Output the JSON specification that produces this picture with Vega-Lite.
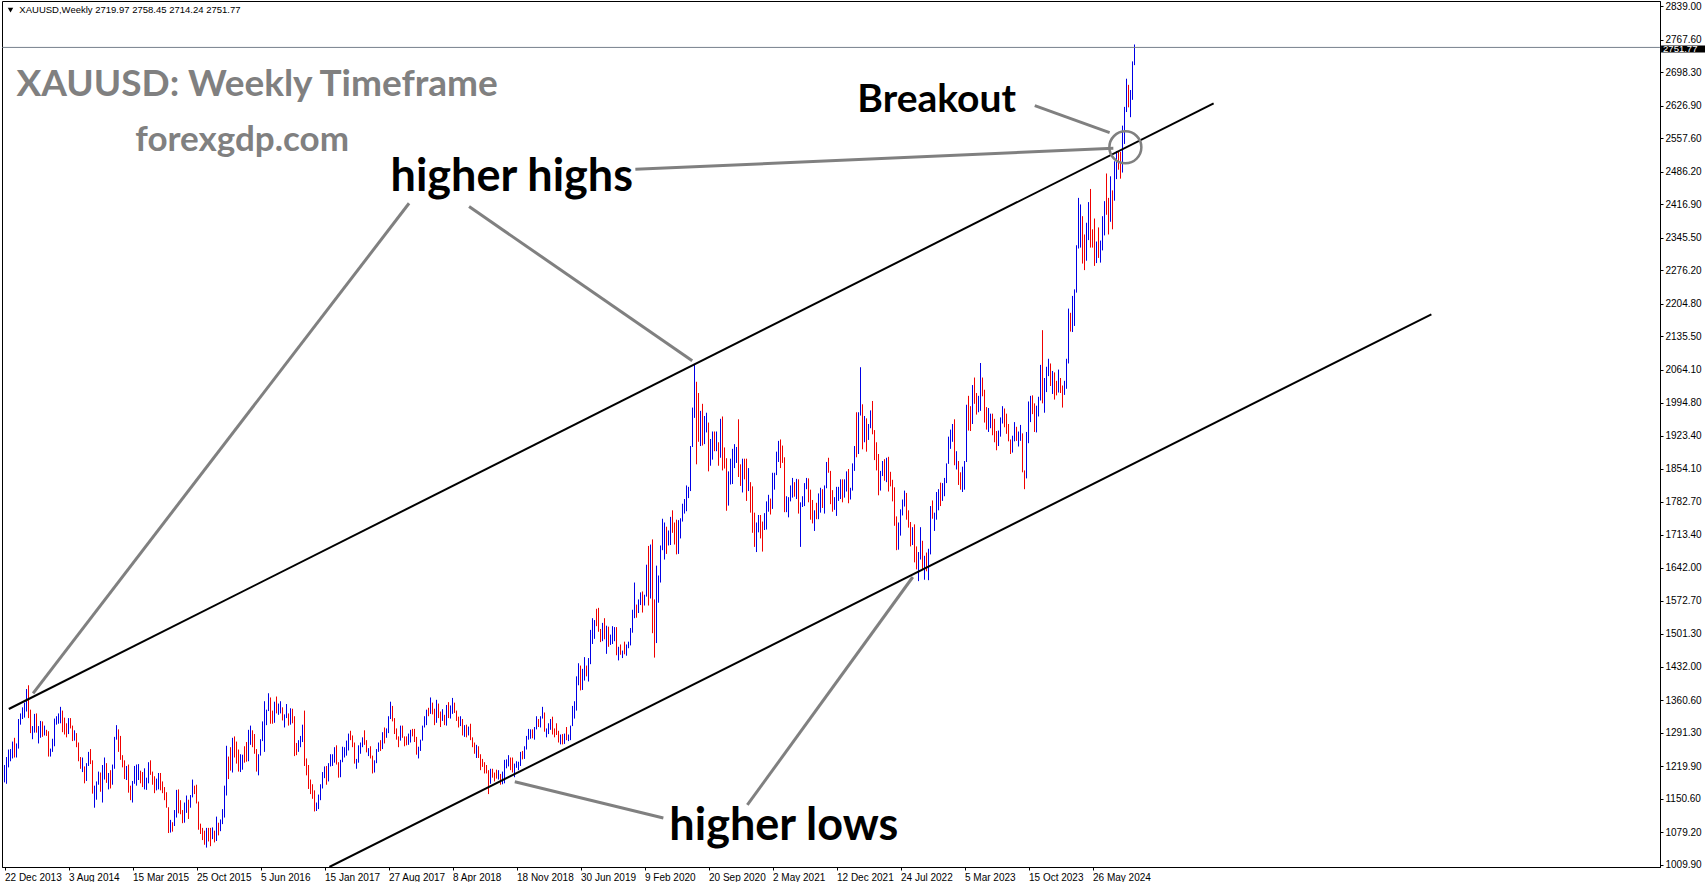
{
"$schema":"https://vega.github.io/schema/vega-lite/v6.json",
"width":1658,"height":866,
"padding":{"left":1,"top":1,"right":0,"bottom":0},
"autosize":{"type":"pad"},
"background":"white",
"config":{"view":{"stroke":"#000000","strokeWidth":1},"axis":{"labelOverlap":false}},
"datasets":{
"bars":[
{"d":"2013-12-22","o":1200,"h":1222,"p":1185,"c":1213},
{"d":"2013-12-29","o":1213,"h":1239,"p":1182,"c":1237},
{"d":"2014-01-05","o":1237,"h":1255,"p":1217,"c":1247},
{"d":"2014-01-12","o":1247,"h":1256,"p":1230,"c":1254},
{"d":"2014-01-19","o":1254,"h":1272,"p":1236,"c":1264},
{"d":"2014-01-26","o":1264,"h":1280,"p":1238,"c":1240},
{"d":"2014-02-02","o":1240,"h":1268,"p":1238,"c":1262},
{"d":"2014-02-09","o":1262,"h":1320,"p":1257,"c":1318},
{"d":"2014-02-16","o":1318,"h":1332,"p":1308,"c":1323},
{"d":"2014-02-23","o":1323,"h":1345,"p":1320,"c":1326},
{"d":"2014-03-02","o":1326,"h":1355,"p":1323,"c":1338},
{"d":"2014-03-09","o":1338,"h":1384,"p":1336,"c":1379},
{"d":"2014-03-16","o":1379,"h":1392,"p":1322,"c":1334},
{"d":"2014-03-23","o":1334,"h":1340,"p":1290,"c":1294},
{"d":"2014-03-30","o":1294,"h":1305,"p":1277,"c":1303},
{"d":"2014-04-06","o":1303,"h":1331,"p":1291,"c":1318},
{"d":"2014-04-13","o":1318,"h":1332,"p":1291,"c":1293},
{"d":"2014-04-20","o":1293,"h":1305,"p":1268,"c":1300},
{"d":"2014-04-27","o":1300,"h":1316,"p":1280,"c":1302},
{"d":"2014-05-04","o":1302,"h":1315,"p":1282,"c":1288},
{"d":"2014-05-11","o":1288,"h":1306,"p":1285,"c":1293},
{"d":"2014-05-18","o":1293,"h":1297,"p":1284,"c":1292},
{"d":"2014-05-25","o":1292,"h":1294,"p":1240,"c":1245},
{"d":"2014-06-01","o":1245,"h":1257,"p":1240,"c":1252},
{"d":"2014-06-08","o":1252,"h":1278,"p":1250,"c":1274},
{"d":"2014-06-15","o":1274,"h":1321,"p":1262,"c":1315},
{"d":"2014-06-22","o":1315,"h":1326,"p":1308,"c":1316},
{"d":"2014-06-29","o":1316,"h":1332,"p":1310,"c":1320},
{"d":"2014-07-06","o":1320,"h":1346,"p":1311,"c":1337},
{"d":"2014-07-13","o":1337,"h":1338,"p":1292,"c":1310},
{"d":"2014-07-20","o":1310,"h":1323,"p":1287,"c":1307},
{"d":"2014-07-27","o":1307,"h":1311,"p":1281,"c":1294},
{"d":"2014-08-03","o":1294,"h":1322,"p":1288,"c":1310},
{"d":"2014-08-10","o":1310,"h":1322,"p":1300,"c":1305},
{"d":"2014-08-17","o":1305,"h":1306,"p":1273,"c":1280},
{"d":"2014-08-24","o":1280,"h":1296,"p":1274,"c":1287},
{"d":"2014-08-31","o":1287,"h":1290,"p":1260,"c":1269},
{"d":"2014-09-07","o":1269,"h":1270,"p":1230,"c":1231},
{"d":"2014-09-14","o":1231,"h":1239,"p":1214,"c":1216},
{"d":"2014-09-21","o":1216,"h":1238,"p":1207,"c":1218},
{"d":"2014-09-28","o":1218,"h":1219,"p":1183,"c":1192},
{"d":"2014-10-05","o":1192,"h":1226,"p":1188,"c":1222},
{"d":"2014-10-12","o":1222,"h":1250,"p":1220,"c":1238},
{"d":"2014-10-19","o":1238,"h":1256,"p":1224,"c":1231},
{"d":"2014-10-26","o":1231,"h":1232,"p":1161,"c":1171},
{"d":"2014-11-02","o":1171,"h":1178,"p":1131,"c":1177},
{"d":"2014-11-09","o":1177,"h":1187,"p":1148,"c":1186},
{"d":"2014-11-16","o":1186,"h":1208,"p":1180,"c":1201},
{"d":"2014-11-23","o":1201,"h":1206,"p":1165,"c":1175},
{"d":"2014-11-30","o":1175,"h":1222,"p":1142,"c":1191},
{"d":"2014-12-07","o":1191,"h":1238,"p":1191,"c":1222},
{"d":"2014-12-14","o":1222,"h":1226,"p":1184,"c":1195},
{"d":"2014-12-21","o":1195,"h":1205,"p":1170,"c":1195},
{"d":"2014-12-28","o":1195,"h":1211,"p":1172,"c":1186},
{"d":"2015-01-04","o":1186,"h":1223,"p":1180,"c":1216},
{"d":"2015-01-11","o":1216,"h":1282,"p":1214,"c":1277},
{"d":"2015-01-18","o":1277,"h":1307,"p":1276,"c":1293},
{"d":"2015-01-25","o":1293,"h":1298,"p":1250,"c":1278},
{"d":"2015-02-01","o":1278,"h":1284,"p":1233,"c":1234},
{"d":"2015-02-08","o":1234,"h":1243,"p":1217,"c":1228},
{"d":"2015-02-15","o":1228,"h":1232,"p":1192,"c":1203},
{"d":"2015-02-22","o":1203,"h":1220,"p":1190,"c":1213},
{"d":"2015-03-01","o":1213,"h":1223,"p":1163,"c":1167},
{"d":"2015-03-08","o":1167,"h":1178,"p":1147,"c":1152},
{"d":"2015-03-15","o":1152,"h":1188,"p":1142,"c":1183},
{"d":"2015-03-22","o":1183,"h":1220,"p":1182,"c":1199},
{"d":"2015-03-29","o":1199,"h":1223,"p":1178,"c":1200},
{"d":"2015-04-05","o":1200,"h":1224,"p":1190,"c":1206},
{"d":"2015-04-12","o":1206,"h":1210,"p":1183,"c":1203},
{"d":"2015-04-19","o":1203,"h":1207,"p":1175,"c":1175},
{"d":"2015-04-26","o":1175,"h":1215,"p":1170,"c":1178},
{"d":"2015-05-03","o":1178,"h":1195,"p":1169,"c":1189},
{"d":"2015-05-10","o":1189,"h":1228,"p":1183,"c":1225},
{"d":"2015-05-17","o":1225,"h":1232,"p":1201,"c":1205},
{"d":"2015-05-24","o":1205,"h":1208,"p":1180,"c":1190},
{"d":"2015-05-31","o":1190,"h":1198,"p":1162,"c":1168},
{"d":"2015-06-07","o":1168,"h":1193,"p":1168,"c":1179},
{"d":"2015-06-14","o":1179,"h":1205,"p":1170,"c":1201},
{"d":"2015-06-21","o":1201,"h":1205,"p":1168,"c":1173},
{"d":"2015-06-28","o":1173,"h":1187,"p":1162,"c":1168},
{"d":"2015-07-05","o":1168,"h":1175,"p":1147,"c":1158},
{"d":"2015-07-12","o":1158,"h":1164,"p":1131,"c":1132},
{"d":"2015-07-19","o":1132,"h":1132,"p":1077,"c":1086},
{"d":"2015-07-26","o":1086,"h":1105,"p":1078,"c":1095},
{"d":"2015-08-02","o":1095,"h":1100,"p":1080,"c":1094},
{"d":"2015-08-09","o":1094,"h":1126,"p":1092,"c":1113},
{"d":"2015-08-16","o":1113,"h":1169,"p":1110,"c":1160},
{"d":"2015-08-23","o":1160,"h":1170,"p":1119,"c":1134},
{"d":"2015-08-30","o":1134,"h":1147,"p":1117,"c":1121},
{"d":"2015-09-06","o":1121,"h":1126,"p":1098,"c":1108},
{"d":"2015-09-13","o":1108,"h":1142,"p":1099,"c":1137},
{"d":"2015-09-20","o":1137,"h":1157,"p":1120,"c":1146},
{"d":"2015-09-27","o":1146,"h":1148,"p":1107,"c":1137},
{"d":"2015-10-04","o":1137,"h":1158,"p":1131,"c":1156},
{"d":"2015-10-11","o":1156,"h":1191,"p":1153,"c":1177},
{"d":"2015-10-18","o":1177,"h":1178,"p":1160,"c":1163},
{"d":"2015-10-25","o":1163,"h":1180,"p":1140,"c":1142},
{"d":"2015-11-01","o":1142,"h":1144,"p":1084,"c":1088},
{"d":"2015-11-08","o":1088,"h":1097,"p":1075,"c":1081},
{"d":"2015-11-15","o":1081,"h":1088,"p":1062,"c":1076},
{"d":"2015-11-22","o":1076,"h":1082,"p":1052,"c":1057},
{"d":"2015-11-29","o":1057,"h":1088,"p":1046,"c":1084},
{"d":"2015-12-06","o":1084,"h":1088,"p":1059,"c":1075},
{"d":"2015-12-13","o":1075,"h":1088,"p":1049,"c":1065},
{"d":"2015-12-20","o":1065,"h":1089,"p":1064,"c":1076},
{"d":"2015-12-27","o":1076,"h":1082,"p":1057,"c":1061},
{"d":"2016-01-03","o":1061,"h":1112,"p":1060,"c":1098},
{"d":"2016-01-10","o":1098,"h":1099,"p":1072,"c":1088},
{"d":"2016-01-17","o":1088,"h":1106,"p":1081,"c":1097},
{"d":"2016-01-24","o":1097,"h":1128,"p":1096,"c":1117},
{"d":"2016-01-31","o":1117,"h":1178,"p":1110,"c":1174},
{"d":"2016-02-07","o":1174,"h":1263,"p":1157,"c":1239},
{"d":"2016-02-14","o":1239,"h":1240,"p":1192,"c":1230},
{"d":"2016-02-21","o":1230,"h":1260,"p":1210,"c":1221},
{"d":"2016-02-28","o":1221,"h":1280,"p":1206,"c":1271},
{"d":"2016-03-06","o":1271,"h":1283,"p":1238,"c":1259},
{"d":"2016-03-13","o":1259,"h":1272,"p":1225,"c":1255},
{"d":"2016-03-20","o":1255,"h":1255,"p":1208,"c":1220},
{"d":"2016-03-27","o":1220,"h":1245,"p":1207,"c":1222},
{"d":"2016-04-03","o":1222,"h":1244,"p":1212,"c":1243},
{"d":"2016-04-10","o":1243,"h":1262,"p":1227,"c":1235},
{"d":"2016-04-17","o":1235,"h":1271,"p":1229,"c":1232},
{"d":"2016-04-24","o":1232,"h":1297,"p":1230,"c":1290},
{"d":"2016-05-01","o":1290,"h":1306,"p":1265,"c":1294},
{"d":"2016-05-08","o":1294,"h":1296,"p":1260,"c":1273},
{"d":"2016-05-15","o":1273,"h":1288,"p":1246,"c":1252},
{"d":"2016-05-22","o":1252,"h":1256,"p":1208,"c":1216},
{"d":"2016-05-29","o":1216,"h":1245,"p":1200,"c":1243},
{"d":"2016-06-05","o":1243,"h":1277,"p":1242,"c":1275},
{"d":"2016-06-12","o":1275,"h":1315,"p":1273,"c":1298},
{"d":"2016-06-19","o":1298,"h":1358,"p":1250,"c":1322},
{"d":"2016-06-26","o":1322,"h":1340,"p":1307,"c":1339},
{"d":"2016-07-03","o":1339,"h":1375,"p":1337,"c":1366},
{"d":"2016-07-10","o":1366,"h":1366,"p":1310,"c":1327},
{"d":"2016-07-17","o":1327,"h":1338,"p":1310,"c":1322},
{"d":"2016-07-24","o":1322,"h":1357,"p":1312,"c":1350},
{"d":"2016-07-31","o":1350,"h":1368,"p":1332,"c":1335},
{"d":"2016-08-07","o":1335,"h":1353,"p":1329,"c":1335},
{"d":"2016-08-14","o":1335,"h":1358,"p":1332,"c":1341},
{"d":"2016-08-21","o":1341,"h":1345,"p":1317,"c":1321},
{"d":"2016-08-28","o":1321,"h":1330,"p":1302,"c":1326},
{"d":"2016-09-04","o":1326,"h":1352,"p":1322,"c":1328},
{"d":"2016-09-11","o":1328,"h":1332,"p":1306,"c":1310},
{"d":"2016-09-18","o":1310,"h":1343,"p":1308,"c":1337},
{"d":"2016-09-25","o":1337,"h":1342,"p":1311,"c":1315},
{"d":"2016-10-02","o":1315,"h":1326,"p":1241,"c":1257},
{"d":"2016-10-09","o":1257,"h":1269,"p":1243,"c":1251},
{"d":"2016-10-16","o":1251,"h":1275,"p":1250,"c":1267},
{"d":"2016-10-23","o":1267,"h":1284,"p":1260,"c":1276},
{"d":"2016-10-30","o":1276,"h":1308,"p":1271,"c":1304},
{"d":"2016-11-06","o":1304,"h":1338,"p":1220,"c":1225},
{"d":"2016-11-13","o":1225,"h":1236,"p":1200,"c":1208},
{"d":"2016-11-20","o":1208,"h":1222,"p":1171,"c":1178},
{"d":"2016-11-27","o":1178,"h":1191,"p":1160,"c":1177},
{"d":"2016-12-04","o":1177,"h":1181,"p":1150,"c":1160},
{"d":"2016-12-11","o":1160,"h":1168,"p":1123,"c":1133},
{"d":"2016-12-18","o":1133,"h":1142,"p":1124,"c":1133},
{"d":"2016-12-25","o":1133,"h":1159,"p":1128,"c":1151},
{"d":"2017-01-01","o":1151,"h":1181,"p":1147,"c":1172},
{"d":"2017-01-08","o":1172,"h":1207,"p":1172,"c":1196},
{"d":"2017-01-15","o":1196,"h":1219,"p":1194,"c":1210},
{"d":"2017-01-22","o":1210,"h":1220,"p":1180,"c":1190},
{"d":"2017-01-29","o":1190,"h":1226,"p":1187,"c":1220},
{"d":"2017-02-05","o":1220,"h":1245,"p":1219,"c":1234},
{"d":"2017-02-12","o":1234,"h":1245,"p":1220,"c":1238},
{"d":"2017-02-19","o":1238,"h":1260,"p":1227,"c":1257},
{"d":"2017-02-26","o":1257,"h":1264,"p":1223,"c":1226},
{"d":"2017-03-05","o":1226,"h":1228,"p":1195,"c":1202},
{"d":"2017-03-12","o":1202,"h":1233,"p":1196,"c":1229},
{"d":"2017-03-19","o":1229,"h":1261,"p":1228,"c":1249},
{"d":"2017-03-26","o":1249,"h":1260,"p":1238,"c":1249},
{"d":"2017-04-02","o":1249,"h":1274,"p":1242,"c":1254},
{"d":"2017-04-09","o":1254,"h":1289,"p":1253,"c":1286},
{"d":"2017-04-16","o":1286,"h":1295,"p":1275,"c":1284},
{"d":"2017-04-23","o":1284,"h":1285,"p":1260,"c":1268},
{"d":"2017-04-30","o":1268,"h":1270,"p":1225,"c":1228},
{"d":"2017-05-07","o":1228,"h":1235,"p":1214,"c":1228},
{"d":"2017-05-14","o":1228,"h":1264,"p":1227,"c":1254},
{"d":"2017-05-21","o":1254,"h":1270,"p":1246,"c":1267},
{"d":"2017-05-28","o":1267,"h":1281,"p":1260,"c":1279},
{"d":"2017-06-04","o":1279,"h":1296,"p":1265,"c":1266},
{"d":"2017-06-11","o":1266,"h":1275,"p":1249,"c":1254},
{"d":"2017-06-18","o":1254,"h":1258,"p":1241,"c":1256},
{"d":"2017-06-25","o":1256,"h":1262,"p":1236,"c":1241},
{"d":"2017-07-02","o":1241,"h":1242,"p":1204,"c":1212},
{"d":"2017-07-09","o":1212,"h":1232,"p":1206,"c":1228},
{"d":"2017-07-16","o":1228,"h":1256,"p":1226,"c":1254},
{"d":"2017-07-23","o":1254,"h":1270,"p":1250,"c":1268},
{"d":"2017-07-30","o":1268,"h":1275,"p":1252,"c":1258},
{"d":"2017-08-06","o":1258,"h":1292,"p":1256,"c":1289},
{"d":"2017-08-13","o":1289,"h":1302,"p":1268,"c":1284},
{"d":"2017-08-20","o":1284,"h":1300,"p":1280,"c":1291},
{"d":"2017-08-27","o":1291,"h":1326,"p":1290,"c":1325},
{"d":"2017-09-03","o":1325,"h":1357,"p":1320,"c":1346},
{"d":"2017-09-10","o":1346,"h":1348,"p":1315,"c":1320},
{"d":"2017-09-17","o":1320,"h":1322,"p":1288,"c":1297},
{"d":"2017-09-24","o":1297,"h":1300,"p":1276,"c":1280},
{"d":"2017-10-01","o":1280,"h":1283,"p":1260,"c":1274},
{"d":"2017-10-08","o":1274,"h":1306,"p":1274,"c":1304},
{"d":"2017-10-15","o":1304,"h":1306,"p":1280,"c":1280},
{"d":"2017-10-22","o":1280,"h":1283,"p":1262,"c":1272},
{"d":"2017-10-29","o":1272,"h":1283,"p":1264,"c":1269},
{"d":"2017-11-05","o":1269,"h":1289,"p":1265,"c":1275},
{"d":"2017-11-12","o":1275,"h":1297,"p":1270,"c":1294},
{"d":"2017-11-19","o":1294,"h":1299,"p":1283,"c":1287},
{"d":"2017-11-26","o":1287,"h":1299,"p":1271,"c":1280},
{"d":"2017-12-03","o":1280,"h":1282,"p":1244,"c":1248},
{"d":"2017-12-10","o":1248,"h":1261,"p":1236,"c":1256},
{"d":"2017-12-17","o":1256,"h":1276,"p":1252,"c":1275},
{"d":"2017-12-24","o":1275,"h":1306,"p":1274,"c":1303},
{"d":"2017-12-31","o":1303,"h":1326,"p":1302,"c":1320},
{"d":"2018-01-07","o":1320,"h":1340,"p":1307,"c":1338},
{"d":"2018-01-14","o":1338,"h":1344,"p":1326,"c":1332},
{"d":"2018-01-21","o":1332,"h":1366,"p":1331,"c":1349},
{"d":"2018-01-28","o":1349,"h":1355,"p":1330,"c":1333},
{"d":"2018-02-04","o":1333,"h":1342,"p":1307,"c":1315},
{"d":"2018-02-11","o":1315,"h":1361,"p":1312,"c":1347},
{"d":"2018-02-18","o":1347,"h":1353,"p":1322,"c":1330},
{"d":"2018-02-25","o":1330,"h":1336,"p":1303,"c":1323},
{"d":"2018-03-04","o":1323,"h":1341,"p":1316,"c":1324},
{"d":"2018-03-11","o":1324,"h":1329,"p":1307,"c":1314},
{"d":"2018-03-18","o":1314,"h":1350,"p":1306,"c":1347},
{"d":"2018-03-25","o":1347,"h":1356,"p":1322,"c":1325},
{"d":"2018-04-01","o":1325,"h":1349,"p":1321,"c":1332},
{"d":"2018-04-08","o":1332,"h":1365,"p":1331,"c":1345},
{"d":"2018-04-15","o":1345,"h":1355,"p":1333,"c":1336},
{"d":"2018-04-22","o":1336,"h":1338,"p":1316,"c":1323},
{"d":"2018-04-29","o":1323,"h":1325,"p":1302,"c":1314},
{"d":"2018-05-06","o":1314,"h":1326,"p":1305,"c":1319},
{"d":"2018-05-13","o":1319,"h":1320,"p":1285,"c":1291},
{"d":"2018-05-20","o":1291,"h":1307,"p":1282,"c":1302},
{"d":"2018-05-27","o":1302,"h":1308,"p":1281,"c":1294},
{"d":"2018-06-03","o":1294,"h":1304,"p":1285,"c":1298},
{"d":"2018-06-10","o":1298,"h":1310,"p":1275,"c":1278},
{"d":"2018-06-17","o":1278,"h":1281,"p":1260,"c":1269},
{"d":"2018-06-24","o":1269,"h":1270,"p":1246,"c":1252},
{"d":"2018-07-01","o":1252,"h":1265,"p":1237,"c":1255},
{"d":"2018-07-08","o":1255,"h":1262,"p":1237,"c":1241},
{"d":"2018-07-15","o":1241,"h":1245,"p":1211,"c":1231},
{"d":"2018-07-22","o":1231,"h":1235,"p":1218,"c":1223},
{"d":"2018-07-29","o":1223,"h":1228,"p":1204,"c":1214},
{"d":"2018-08-05","o":1214,"h":1222,"p":1204,"c":1211},
{"d":"2018-08-12","o":1211,"h":1211,"p":1160,"c":1184},
{"d":"2018-08-19","o":1184,"h":1214,"p":1182,"c":1206},
{"d":"2018-08-26","o":1206,"h":1214,"p":1195,"c":1201},
{"d":"2018-09-02","o":1201,"h":1206,"p":1187,"c":1196},
{"d":"2018-09-09","o":1196,"h":1212,"p":1193,"c":1194},
{"d":"2018-09-16","o":1194,"h":1211,"p":1191,"c":1199},
{"d":"2018-09-23","o":1199,"h":1203,"p":1180,"c":1192},
{"d":"2018-09-30","o":1192,"h":1208,"p":1181,"c":1203},
{"d":"2018-10-07","o":1203,"h":1233,"p":1183,"c":1222},
{"d":"2018-10-14","o":1222,"h":1234,"p":1215,"c":1227},
{"d":"2018-10-21","o":1227,"h":1243,"p":1219,"c":1234},
{"d":"2018-10-28","o":1234,"h":1238,"p":1211,"c":1233},
{"d":"2018-11-04","o":1233,"h":1238,"p":1206,"c":1209},
{"d":"2018-11-11","o":1209,"h":1225,"p":1196,"c":1222},
{"d":"2018-11-18","o":1222,"h":1230,"p":1216,"c":1222},
{"d":"2018-11-25","o":1222,"h":1229,"p":1211,"c":1222},
{"d":"2018-12-02","o":1222,"h":1250,"p":1220,"c":1248},
{"d":"2018-12-09","o":1248,"h":1252,"p":1234,"c":1238},
{"d":"2018-12-16","o":1238,"h":1262,"p":1235,"c":1257},
{"d":"2018-12-23","o":1257,"h":1284,"p":1255,"c":1280},
{"d":"2018-12-30","o":1280,"h":1299,"p":1276,"c":1285},
{"d":"2019-01-06","o":1285,"h":1298,"p":1278,"c":1288},
{"d":"2019-01-13","o":1288,"h":1298,"p":1279,"c":1282},
{"d":"2019-01-20","o":1282,"h":1303,"p":1276,"c":1298},
{"d":"2019-01-27","o":1298,"h":1326,"p":1298,"c":1317},
{"d":"2019-02-03","o":1317,"h":1320,"p":1303,"c":1314},
{"d":"2019-02-10","o":1314,"h":1326,"p":1302,"c":1322},
{"d":"2019-02-17","o":1322,"h":1346,"p":1321,"c":1328},
{"d":"2019-02-24","o":1328,"h":1334,"p":1293,"c":1294},
{"d":"2019-03-03","o":1294,"h":1300,"p":1281,"c":1299},
{"d":"2019-03-10","o":1299,"h":1311,"p":1288,"c":1302},
{"d":"2019-03-17","o":1302,"h":1320,"p":1297,"c":1312},
{"d":"2019-03-24","o":1312,"h":1325,"p":1287,"c":1292},
{"d":"2019-03-31","o":1292,"h":1300,"p":1281,"c":1291},
{"d":"2019-04-07","o":1291,"h":1311,"p":1286,"c":1290},
{"d":"2019-04-14","o":1290,"h":1295,"p":1270,"c":1275},
{"d":"2019-04-21","o":1275,"h":1287,"p":1266,"c":1286},
{"d":"2019-04-28","o":1286,"h":1288,"p":1266,"c":1279},
{"d":"2019-05-05","o":1279,"h":1289,"p":1267,"c":1286},
{"d":"2019-05-12","o":1286,"h":1303,"p":1275,"c":1277},
{"d":"2019-05-19","o":1277,"h":1287,"p":1273,"c":1283},
{"d":"2019-05-26","o":1283,"h":1306,"p":1275,"c":1305},
{"d":"2019-06-02","o":1305,"h":1348,"p":1305,"c":1341},
{"d":"2019-06-09","o":1341,"h":1358,"p":1321,"c":1341},
{"d":"2019-06-16","o":1341,"h":1411,"p":1338,"c":1399},
{"d":"2019-06-23","o":1399,"h":1439,"p":1392,"c":1409},
{"d":"2019-06-30","o":1409,"h":1434,"p":1381,"c":1399},
{"d":"2019-07-07","o":1399,"h":1427,"p":1382,"c":1415},
{"d":"2019-07-14","o":1415,"h":1452,"p":1402,"c":1426},
{"d":"2019-07-21","o":1426,"h":1434,"p":1411,"c":1419},
{"d":"2019-07-28","o":1419,"h":1450,"p":1400,"c":1440},
{"d":"2019-08-04","o":1440,"h":1510,"p":1437,"c":1497},
{"d":"2019-08-11","o":1497,"h":1535,"p":1480,"c":1513},
{"d":"2019-08-18","o":1513,"h":1531,"p":1491,"c":1527},
{"d":"2019-08-25","o":1527,"h":1555,"p":1518,"c":1520},
{"d":"2019-09-01","o":1520,"h":1557,"p":1506,"c":1507},
{"d":"2019-09-08","o":1507,"h":1512,"p":1484,"c":1488},
{"d":"2019-09-15","o":1488,"h":1525,"p":1486,"c":1517},
{"d":"2019-09-22","o":1517,"h":1535,"p":1490,"c":1497},
{"d":"2019-09-29","o":1497,"h":1519,"p":1459,"c":1504},
{"d":"2019-10-06","o":1504,"h":1517,"p":1474,"c":1488},
{"d":"2019-10-13","o":1488,"h":1500,"p":1478,"c":1490},
{"d":"2019-10-20","o":1490,"h":1518,"p":1480,"c":1505},
{"d":"2019-10-27","o":1505,"h":1516,"p":1486,"c":1514},
{"d":"2019-11-03","o":1514,"h":1516,"p":1456,"c":1459},
{"d":"2019-11-10","o":1459,"h":1474,"p":1445,"c":1468},
{"d":"2019-11-17","o":1468,"h":1479,"p":1457,"c":1462},
{"d":"2019-11-24","o":1462,"h":1466,"p":1450,"c":1464},
{"d":"2019-12-01","o":1464,"h":1485,"p":1458,"c":1460},
{"d":"2019-12-08","o":1460,"h":1479,"p":1455,"c":1476},
{"d":"2019-12-15","o":1476,"h":1485,"p":1471,"c":1478},
{"d":"2019-12-22","o":1478,"h":1514,"p":1477,"c":1510},
{"d":"2019-12-29","o":1510,"h":1553,"p":1504,"c":1552},
{"d":"2020-01-05","o":1552,"h":1611,"p":1535,"c":1560},
{"d":"2020-01-12","o":1560,"h":1564,"p":1536,"c":1557},
{"d":"2020-01-19","o":1557,"h":1575,"p":1546,"c":1571},
{"d":"2020-01-26","o":1571,"h":1590,"p":1563,"c":1589},
{"d":"2020-02-02","o":1589,"h":1592,"p":1547,"c":1570},
{"d":"2020-02-09","o":1570,"h":1585,"p":1562,"c":1584},
{"d":"2020-02-16","o":1584,"h":1649,"p":1581,"c":1643},
{"d":"2020-02-23","o":1643,"h":1689,"p":1562,"c":1585},
{"d":"2020-03-01","o":1585,"h":1692,"p":1577,"c":1673},
{"d":"2020-03-08","o":1673,"h":1703,"p":1503,"c":1530},
{"d":"2020-03-15","o":1530,"h":1575,"p":1451,"c":1498},
{"d":"2020-03-22","o":1498,"h":1647,"p":1482,"c":1617},
{"d":"2020-03-29","o":1617,"h":1626,"p":1568,"c":1620},
{"d":"2020-04-05","o":1620,"h":1690,"p":1611,"c":1683},
{"d":"2020-04-12","o":1683,"h":1747,"p":1680,"c":1683},
{"d":"2020-04-19","o":1683,"h":1739,"p":1660,"c":1726},
{"d":"2020-04-26","o":1726,"h":1730,"p":1672,"c":1701},
{"d":"2020-05-03","o":1701,"h":1722,"p":1690,"c":1702},
{"d":"2020-05-10","o":1702,"h":1751,"p":1691,"c":1743},
{"d":"2020-05-17","o":1743,"h":1765,"p":1717,"c":1735},
{"d":"2020-05-24","o":1735,"h":1739,"p":1692,"c":1730},
{"d":"2020-05-31","o":1730,"h":1745,"p":1671,"c":1684},
{"d":"2020-06-07","o":1684,"h":1744,"p":1672,"c":1730},
{"d":"2020-06-14","o":1730,"h":1748,"p":1705,"c":1743},
{"d":"2020-06-21","o":1743,"h":1779,"p":1741,"c":1771},
{"d":"2020-06-28","o":1771,"h":1789,"p":1758,"c":1775},
{"d":"2020-07-05","o":1775,"h":1818,"p":1763,"c":1798},
{"d":"2020-07-12","o":1798,"h":1815,"p":1791,"c":1810},
{"d":"2020-07-19","o":1810,"h":1902,"p":1806,"c":1902},
{"d":"2020-07-26","o":1902,"h":1984,"p":1900,"c":1975},
{"d":"2020-08-02","o":1975,"h":2075,"p":1962,"c":2035},
{"d":"2020-08-09","o":2035,"h":2039,"p":1863,"c":1944},
{"d":"2020-08-16","o":1944,"h":2015,"p":1911,"c":1940},
{"d":"2020-08-23","o":1940,"h":1977,"p":1902,"c":1964},
{"d":"2020-08-30","o":1964,"h":1992,"p":1903,"c":1934},
{"d":"2020-09-06","o":1934,"h":1966,"p":1906,"c":1940},
{"d":"2020-09-13","o":1940,"h":1973,"p":1931,"c":1950},
{"d":"2020-09-20","o":1950,"h":1952,"p":1848,"c":1861},
{"d":"2020-09-27","o":1861,"h":1917,"p":1860,"c":1900},
{"d":"2020-10-04","o":1900,"h":1933,"p":1873,"c":1930},
{"d":"2020-10-11","o":1930,"h":1933,"p":1891,"c":1899},
{"d":"2020-10-18","o":1899,"h":1933,"p":1891,"c":1902},
{"d":"2020-10-25","o":1902,"h":1910,"p":1860,"c":1879},
{"d":"2020-11-01","o":1879,"h":1960,"p":1877,"c":1951},
{"d":"2020-11-08","o":1951,"h":1965,"p":1850,"c":1889},
{"d":"2020-11-15","o":1889,"h":1899,"p":1854,"c":1871},
{"d":"2020-11-22","o":1871,"h":1876,"p":1764,"c":1777},
{"d":"2020-11-29","o":1777,"h":1848,"p":1775,"c":1839},
{"d":"2020-12-06","o":1839,"h":1875,"p":1820,"c":1839},
{"d":"2020-12-13","o":1839,"h":1896,"p":1821,"c":1881},
{"d":"2020-12-20","o":1881,"h":1906,"p":1855,"c":1883},
{"d":"2020-12-27","o":1883,"h":1900,"p":1866,"c":1898},
{"d":"2021-01-03","o":1898,"h":1959,"p":1836,"c":1850},
{"d":"2021-01-10","o":1850,"h":1863,"p":1817,"c":1827},
{"d":"2021-01-17","o":1827,"h":1875,"p":1803,"c":1855},
{"d":"2021-01-24","o":1855,"h":1875,"p":1831,"c":1847},
{"d":"2021-01-31","o":1847,"h":1875,"p":1785,"c":1813},
{"d":"2021-02-07","o":1813,"h":1855,"p":1806,"c":1824},
{"d":"2021-02-14","o":1824,"h":1825,"p":1760,"c":1784},
{"d":"2021-02-21","o":1784,"h":1816,"p":1717,"c":1734},
{"d":"2021-02-28","o":1734,"h":1760,"p":1687,"c":1700},
{"d":"2021-03-07","o":1700,"h":1739,"p":1676,"c":1727},
{"d":"2021-03-14","o":1727,"h":1755,"p":1718,"c":1745},
{"d":"2021-03-21","o":1745,"h":1755,"p":1705,"c":1732},
{"d":"2021-03-28","o":1732,"h":1741,"p":1677,"c":1729},
{"d":"2021-04-04","o":1729,"h":1759,"p":1723,"c":1744},
{"d":"2021-04-11","o":1744,"h":1784,"p":1724,"c":1777},
{"d":"2021-04-18","o":1777,"h":1798,"p":1762,"c":1777},
{"d":"2021-04-25","o":1777,"h":1790,"p":1756,"c":1769},
{"d":"2021-05-02","o":1769,"h":1845,"p":1768,"c":1831},
{"d":"2021-05-09","o":1831,"h":1845,"p":1809,"c":1844},
{"d":"2021-05-16","o":1844,"h":1890,"p":1840,"c":1881},
{"d":"2021-05-23","o":1881,"h":1913,"p":1868,"c":1905},
{"d":"2021-05-30","o":1905,"h":1916,"p":1855,"c":1891},
{"d":"2021-06-06","o":1891,"h":1903,"p":1866,"c":1877},
{"d":"2021-06-13","o":1877,"h":1878,"p":1761,"c":1764},
{"d":"2021-06-20","o":1764,"h":1795,"p":1761,"c":1781},
{"d":"2021-06-27","o":1781,"h":1793,"p":1750,"c":1787},
{"d":"2021-07-04","o":1787,"h":1818,"p":1784,"c":1808},
{"d":"2021-07-11","o":1808,"h":1834,"p":1792,"c":1812},
{"d":"2021-07-18","o":1812,"h":1825,"p":1794,"c":1802},
{"d":"2021-07-25","o":1802,"h":1832,"p":1789,"c":1814},
{"d":"2021-08-01","o":1814,"h":1831,"p":1758,"c":1763},
{"d":"2021-08-08","o":1763,"h":1782,"p":1687,"c":1779},
{"d":"2021-08-15","o":1779,"h":1795,"p":1772,"c":1781},
{"d":"2021-08-22","o":1781,"h":1823,"p":1774,"c":1818},
{"d":"2021-08-29","o":1818,"h":1834,"p":1810,"c":1827},
{"d":"2021-09-05","o":1827,"h":1833,"p":1782,"c":1787},
{"d":"2021-09-12","o":1787,"h":1809,"p":1745,"c":1754},
{"d":"2021-09-19","o":1754,"h":1787,"p":1737,"c":1750},
{"d":"2021-09-26","o":1750,"h":1765,"p":1721,"c":1761},
{"d":"2021-10-03","o":1761,"h":1781,"p":1746,"c":1757},
{"d":"2021-10-10","o":1757,"h":1801,"p":1746,"c":1768},
{"d":"2021-10-17","o":1768,"h":1813,"p":1760,"c":1792},
{"d":"2021-10-24","o":1792,"h":1810,"p":1770,"c":1783},
{"d":"2021-10-31","o":1783,"h":1818,"p":1758,"c":1818},
{"d":"2021-11-07","o":1818,"h":1868,"p":1812,"c":1864},
{"d":"2021-11-14","o":1864,"h":1877,"p":1845,"c":1846},
{"d":"2021-11-21","o":1846,"h":1849,"p":1778,"c":1788},
{"d":"2021-11-28","o":1788,"h":1808,"p":1762,"c":1783},
{"d":"2021-12-05","o":1783,"h":1793,"p":1766,"c":1783},
{"d":"2021-12-12","o":1783,"h":1815,"p":1753,"c":1798},
{"d":"2021-12-19","o":1798,"h":1815,"p":1785,"c":1811},
{"d":"2021-12-26","o":1811,"h":1831,"p":1789,"c":1829},
{"d":"2022-01-02","o":1829,"h":1831,"p":1782,"c":1797},
{"d":"2022-01-09","o":1797,"h":1831,"p":1792,"c":1817},
{"d":"2022-01-16","o":1817,"h":1848,"p":1805,"c":1835},
{"d":"2022-01-23","o":1835,"h":1853,"p":1780,"c":1791},
{"d":"2022-01-30","o":1791,"h":1813,"p":1788,"c":1807},
{"d":"2022-02-06","o":1807,"h":1865,"p":1807,"c":1859},
{"d":"2022-02-13","o":1859,"h":1902,"p":1849,"c":1898},
{"d":"2022-02-20","o":1898,"h":1974,"p":1878,"c":1889},
{"d":"2022-02-27","o":1889,"h":1974,"p":1885,"c":1970},
{"d":"2022-03-06","o":1970,"h":2070,"p":1967,"c":1988},
{"d":"2022-03-13","o":1988,"h":1991,"p":1895,"c":1921},
{"d":"2022-03-20","o":1921,"h":1966,"p":1910,"c":1958},
{"d":"2022-03-27","o":1958,"h":1961,"p":1890,"c":1925},
{"d":"2022-04-03","o":1925,"h":1949,"p":1915,"c":1947},
{"d":"2022-04-10","o":1947,"h":1978,"p":1940,"c":1974},
{"d":"2022-04-17","o":1974,"h":1998,"p":1927,"c":1931},
{"d":"2022-04-24","o":1931,"h":1936,"p":1872,"c":1897},
{"d":"2022-05-01","o":1897,"h":1910,"p":1850,"c":1883},
{"d":"2022-05-08","o":1883,"h":1885,"p":1797,"c":1811},
{"d":"2022-05-15","o":1811,"h":1849,"p":1807,"c":1846},
{"d":"2022-05-22","o":1846,"h":1870,"p":1838,"c":1853},
{"d":"2022-05-29","o":1853,"h":1874,"p":1828,"c":1851},
{"d":"2022-06-05","o":1851,"h":1877,"p":1825,"c":1871},
{"d":"2022-06-12","o":1871,"h":1879,"p":1805,"c":1840},
{"d":"2022-06-19","o":1840,"h":1847,"p":1816,"c":1827},
{"d":"2022-06-26","o":1827,"h":1830,"p":1784,"c":1811},
{"d":"2022-07-03","o":1811,"h":1814,"p":1732,"c":1742},
{"d":"2022-07-10","o":1742,"h":1752,"p":1680,"c":1708},
{"d":"2022-07-17","o":1708,"h":1739,"p":1681,"c":1727},
{"d":"2022-07-24","o":1727,"h":1767,"p":1711,"c":1766},
{"d":"2022-07-31","o":1766,"h":1788,"p":1754,"c":1775},
{"d":"2022-08-07","o":1775,"h":1807,"p":1773,"c":1802},
{"d":"2022-08-14","o":1802,"h":1802,"p":1745,"c":1747},
{"d":"2022-08-21","o":1747,"h":1765,"p":1728,"c":1737},
{"d":"2022-08-28","o":1737,"h":1740,"p":1688,"c":1712},
{"d":"2022-09-04","o":1712,"h":1729,"p":1691,"c":1716},
{"d":"2022-09-11","o":1716,"h":1735,"p":1654,"c":1675},
{"d":"2022-09-18","o":1675,"h":1688,"p":1639,"c":1644},
{"d":"2022-09-25","o":1644,"h":1676,"p":1614,"c":1660},
{"d":"2022-10-02","o":1660,"h":1729,"p":1660,"c":1695},
{"d":"2022-10-09","o":1695,"h":1700,"p":1640,"c":1644},
{"d":"2022-10-16","o":1644,"h":1668,"p":1617,"c":1657},
{"d":"2022-10-23","o":1657,"h":1675,"p":1635,"c":1644},
{"d":"2022-10-30","o":1644,"h":1683,"p":1616,"c":1681},
{"d":"2022-11-06","o":1681,"h":1774,"p":1671,"c":1771},
{"d":"2022-11-13","o":1771,"h":1786,"p":1747,"c":1751},
{"d":"2022-11-20","o":1751,"h":1760,"p":1721,"c":1754},
{"d":"2022-11-27","o":1754,"h":1804,"p":1745,"c":1797},
{"d":"2022-12-04","o":1797,"h":1810,"p":1765,"c":1797},
{"d":"2022-12-11","o":1797,"h":1824,"p":1774,"c":1793},
{"d":"2022-12-18","o":1793,"h":1823,"p":1785,"c":1798},
{"d":"2022-12-25","o":1798,"h":1834,"p":1795,"c":1824},
{"d":"2023-01-01","o":1824,"h":1865,"p":1823,"c":1865},
{"d":"2023-01-08","o":1865,"h":1922,"p":1864,"c":1920},
{"d":"2023-01-15","o":1920,"h":1937,"p":1896,"c":1926},
{"d":"2023-01-22","o":1926,"h":1949,"p":1911,"c":1928},
{"d":"2023-01-29","o":1928,"h":1959,"p":1861,"c":1865},
{"d":"2023-02-05","o":1865,"h":1891,"p":1852,"c":1865},
{"d":"2023-02-12","o":1865,"h":1870,"p":1819,"c":1842},
{"d":"2023-02-19","o":1842,"h":1846,"p":1809,"c":1811},
{"d":"2023-02-26","o":1811,"h":1858,"p":1804,"c":1856},
{"d":"2023-03-05","o":1856,"h":1870,"p":1809,"c":1868},
{"d":"2023-03-12","o":1868,"h":1990,"p":1868,"c":1989},
{"d":"2023-03-19","o":1989,"h":2009,"p":1935,"c":1978},
{"d":"2023-03-26","o":1978,"h":1987,"p":1934,"c":1969},
{"d":"2023-04-02","o":1969,"h":2032,"p":1949,"c":2007},
{"d":"2023-04-09","o":2007,"h":2048,"p":1992,"c":2004},
{"d":"2023-04-16","o":2004,"h":2015,"p":1969,"c":1983},
{"d":"2023-04-23","o":1983,"h":2009,"p":1974,"c":1990},
{"d":"2023-04-30","o":1990,"h":2079,"p":1977,"c":2016},
{"d":"2023-05-07","o":2016,"h":2048,"p":2008,"c":2011},
{"d":"2023-05-14","o":2011,"h":2022,"p":1952,"c":1977},
{"d":"2023-05-21","o":1977,"h":1985,"p":1937,"c":1946},
{"d":"2023-05-28","o":1946,"h":1983,"p":1932,"c":1948},
{"d":"2023-06-04","o":1948,"h":1971,"p":1940,"c":1961},
{"d":"2023-06-11","o":1961,"h":1971,"p":1925,"c":1958},
{"d":"2023-06-18","o":1958,"h":1960,"p":1910,"c":1921},
{"d":"2023-06-25","o":1921,"h":1934,"p":1893,"c":1919},
{"d":"2023-07-02","o":1919,"h":1935,"p":1902,"c":1925},
{"d":"2023-07-09","o":1925,"h":1963,"p":1922,"c":1955},
{"d":"2023-07-16","o":1955,"h":1987,"p":1950,"c":1962},
{"d":"2023-07-23","o":1962,"h":1982,"p":1942,"c":1959},
{"d":"2023-07-30","o":1959,"h":1971,"p":1928,"c":1943},
{"d":"2023-08-06","o":1943,"h":1949,"p":1912,"c":1914},
{"d":"2023-08-13","o":1914,"h":1916,"p":1885,"c":1889},
{"d":"2023-08-20","o":1889,"h":1924,"p":1888,"c":1914},
{"d":"2023-08-27","o":1914,"h":1953,"p":1912,"c":1940},
{"d":"2023-09-03","o":1940,"h":1943,"p":1913,"c":1919},
{"d":"2023-09-10","o":1919,"h":1933,"p":1901,"c":1924},
{"d":"2023-09-17","o":1924,"h":1947,"p":1913,"c":1925},
{"d":"2023-09-24","o":1925,"h":1929,"p":1846,"c":1848},
{"d":"2023-10-01","o":1848,"h":1850,"p":1810,"c":1833},
{"d":"2023-10-08","o":1833,"h":1932,"p":1833,"c":1932},
{"d":"2023-10-15","o":1932,"h":1997,"p":1908,"c":1981},
{"d":"2023-10-22","o":1981,"h":2009,"p":1953,"c":2006},
{"d":"2023-10-29","o":2006,"h":2010,"p":1970,"c":1992},
{"d":"2023-11-05","o":1992,"h":1993,"p":1932,"c":1940},
{"d":"2023-11-12","o":1940,"h":1988,"p":1931,"c":1981},
{"d":"2023-11-19","o":1981,"h":2007,"p":1965,"c":2002},
{"d":"2023-11-26","o":2002,"h":2075,"p":1999,"c":2072},
{"d":"2023-12-03","o":2072,"h":2149,"p":1993,"c":2004},
{"d":"2023-12-10","o":2004,"h":2047,"p":1973,"c":2019},
{"d":"2023-12-17","o":2019,"h":2071,"p":2017,"c":2053},
{"d":"2023-12-24","o":2053,"h":2088,"p":2051,"c":2062},
{"d":"2023-12-31","o":2062,"h":2078,"p":2030,"c":2045},
{"d":"2024-01-07","o":2045,"h":2062,"p":2013,"c":2049},
{"d":"2024-01-14","o":2049,"h":2059,"p":2001,"c":2029},
{"d":"2024-01-21","o":2029,"h":2041,"p":2010,"c":2018},
{"d":"2024-01-28","o":2018,"h":2065,"p":2016,"c":2039},
{"d":"2024-02-04","o":2039,"h":2047,"p":2015,"c":2024},
{"d":"2024-02-11","o":2024,"h":2031,"p":1984,"c":2013},
{"d":"2024-02-18","o":2013,"h":2041,"p":2011,"c":2035},
{"d":"2024-02-25","o":2035,"h":2088,"p":2024,"c":2083},
{"d":"2024-03-03","o":2083,"h":2195,"p":2078,"c":2179},
{"d":"2024-03-10","o":2179,"h":2186,"p":2146,"c":2155},
{"d":"2024-03-17","o":2155,"h":2222,"p":2145,"c":2165},
{"d":"2024-03-24","o":2165,"h":2236,"p":2158,"c":2233},
{"d":"2024-03-31","o":2233,"h":2330,"p":2229,"c":2329},
{"d":"2024-04-07","o":2329,"h":2431,"p":2323,"c":2344},
{"d":"2024-04-14","o":2344,"h":2417,"p":2325,"c":2391},
{"d":"2024-04-21","o":2391,"h":2392,"p":2291,"c":2337},
{"d":"2024-04-28","o":2337,"h":2353,"p":2277,"c":2301},
{"d":"2024-05-05","o":2301,"h":2378,"p":2297,"c":2360},
{"d":"2024-05-12","o":2360,"h":2422,"p":2341,"c":2415},
{"d":"2024-05-19","o":2415,"h":2450,"p":2325,"c":2334},
{"d":"2024-05-26","o":2334,"h":2364,"p":2325,"c":2327},
{"d":"2024-06-02","o":2327,"h":2387,"p":2286,"c":2293},
{"d":"2024-06-09","o":2293,"h":2338,"p":2292,"c":2333},
{"d":"2024-06-16","o":2333,"h":2368,"p":2303,"c":2322},
{"d":"2024-06-23","o":2322,"h":2340,"p":2293,"c":2326},
{"d":"2024-06-30","o":2326,"h":2392,"p":2319,"c":2391},
{"d":"2024-07-07","o":2391,"h":2424,"p":2351,"c":2411},
{"d":"2024-07-14","o":2411,"h":2483,"p":2395,"c":2400},
{"d":"2024-07-21","o":2400,"h":2431,"p":2353,"c":2386},
{"d":"2024-07-28","o":2386,"h":2477,"p":2380,"c":2443},
{"d":"2024-08-04","o":2443,"h":2447,"p":2364,"c":2431},
{"d":"2024-08-11","o":2431,"h":2509,"p":2425,"c":2507},
{"d":"2024-08-18","o":2507,"h":2531,"p":2471,"c":2512},
{"d":"2024-08-25","o":2512,"h":2529,"p":2491,"c":2503},
{"d":"2024-09-01","o":2503,"h":2529,"p":2472,"c":2497},
{"d":"2024-09-08","o":2497,"h":2585,"p":2485,"c":2578},
{"d":"2024-09-15","o":2578,"h":2625,"p":2546,"c":2622},
{"d":"2024-09-22","o":2622,"h":2685,"p":2614,"c":2658},
{"d":"2024-09-29","o":2658,"h":2672,"p":2624,"c":2653},
{"d":"2024-10-06","o":2653,"h":2661,"p":2603,"c":2657},
{"d":"2024-10-13","o":2657,"h":2722,"p":2640,"c":2721},
{"d":"2024-10-20","o":2720,"h":2758,"p":2714,"c":2752}
],
"trend":[
{"g":"upper","d":"2014-01-06","p":1341.4},{"g":"upper","d":"2025-07-24","p":2632.4},
{"g":"lower","d":"2017-02-01","p":1004.6},{"g":"lower","d":"2027-08-25","p":2182.8}
],
"ann":[
{"g":"a1","d":"2014-04-01","p":1374.9},{"g":"a1","d":"2017-11-07","p":2419.5},
{"g":"a2","d":"2018-06-05","p":2412.4},{"g":"a2","d":"2020-07-25","p":2083.9},
{"g":"a3","d":"2020-01-08","p":2491.9},{"g":"a3","d":"2024-08-07","p":2536.9},
{"g":"a4","d":"2023-11-06","p":2627.5},{"g":"a4","d":"2024-07-25","p":2570},
{"g":"a5","d":"2018-11-12","p":1186.4},{"g":"a5","d":"2020-04-15","p":1109},
{"g":"a6","d":"2021-02-03","p":1136.8},{"g":"a6","d":"2022-09-05","p":1622.8}
]
},
"encoding":{
 "x":{"field":"d","type":"temporal",
  "scale":{"domain":[{"year":2013,"month":12,"date":13,"hours":6,"utc":true},{"year":2029,"month":11,"date":2,"hours":6,"utc":true}]},
  "axis":{"orient":"bottom","title":null,"grid":false,
   "values":[
    {"year":2013,"month":12,"date":22,"utc":true},{"year":2014,"month":8,"date":3,"utc":true},{"year":2015,"month":3,"date":15,"utc":true},
    {"year":2015,"month":10,"date":25,"utc":true},{"year":2016,"month":6,"date":5,"utc":true},{"year":2017,"month":1,"date":15,"utc":true},
    {"year":2017,"month":8,"date":27,"utc":true},{"year":2018,"month":4,"date":8,"utc":true},{"year":2018,"month":11,"date":18,"utc":true},
    {"year":2019,"month":6,"date":30,"utc":true},{"year":2020,"month":2,"date":9,"utc":true},{"year":2020,"month":9,"date":20,"utc":true},
    {"year":2021,"month":5,"date":2,"utc":true},{"year":2021,"month":12,"date":12,"utc":true},{"year":2022,"month":7,"date":24,"utc":true},
    {"year":2023,"month":3,"date":5,"utc":true},{"year":2023,"month":10,"date":15,"utc":true},{"year":2024,"month":5,"date":26,"utc":true}],
   "labelExpr":"utcFormat(datum.value, '%-d %b %Y')",
   "labelAlign":"left","labelBaseline":"top","labelPadding":2,"labelOffset":0,
   "tickSize":3,"tickColor":"#000000","domainColor":"#000000","labelColor":"#000000",
   "labelFont":"Liberation Sans","labelFontSize":10,"labelOverlap":false,"labelFlush":false,"labelBound":false}},
 "y":{"field":"p","type":"quantitative",
  "scale":{"domain":[1004.6,2850.7],"nice":false,"zero":false},
  "axis":{"orient":"right","title":null,"grid":false,
   "values":[2839.00,2767.60,2698.30,2626.90,2557.60,2486.20,2416.90,2345.50,2276.20,2204.80,2135.50,2064.10,1994.80,1923.40,1854.10,1782.70,1713.40,1642.00,1572.70,1501.30,1432.00,1360.60,1291.30,1219.90,1150.60,1079.20,1009.90],
   "format":".2f","tickSize":3,"labelPadding":2,"tickColor":"#000000","domainColor":"#000000","labelColor":"#000000",
   "labelFont":"Liberation Sans","labelFontSize":10,"labelOverlap":false,"labelFlush":false,"labelBound":false,"labelSeparation":0}}
},
"layer":[
{"data":{"name":"bars"},
 "mark":{"type":"rule","strokeWidth":1},
 "encoding":{
  "y2":{"field":"h"},
  "color":{"condition":{"test":"datum.c >= datum.o","value":"#0000e6"},"value":"#f00000"}
 }},
{"data":{"values":[{"d":"2013-12-14","d2":"2029-11-02","p":2751.77}]},
 "mark":{"type":"rule","stroke":"#76808c","strokeWidth":1},
 "encoding":{"x2":{"field":"d2"}}},
{"data":{"name":"trend"},
 "mark":{"type":"line","stroke":"#000000","strokeWidth":2,"clip":true},
 "encoding":{"detail":{"field":"g"}}},
{"data":{"name":"ann"},
 "mark":{"type":"line","stroke":"#808080","strokeWidth":3},
 "encoding":{"detail":{"field":"g"}}},
{"data":{"values":[{"d":"2024-09-18","p":2538.8}]},
 "mark":{"type":"point","shape":"circle","filled":false,"size":1024,"stroke":"#808080","strokeWidth":2.5,"opacity":1},
 "encoding":{}},
{"data":{"values":[{"d":"2014-01-12","p":2831.5}]},
 "mark":{"type":"point","shape":"triangle-down","filled":true,"size":30,"color":"#000000","opacity":1},
 "encoding":{}},
{"data":{"values":[{"d":"2014-02-12","p":2831.5,"t":"XAUUSD,Weekly  2719.97 2758.45 2714.24 2751.77"}]},
 "mark":{"type":"text","align":"left","baseline":"middle","font":"Liberation Sans","fontSize":9.5,"color":"#000000"},
 "encoding":{"text":{"field":"t"}}},
{"data":{"values":[{"d":"2014-02-02","p":2648,"t":"XAUUSD: Weekly Timeframe"}]},
 "mark":{"type":"text","align":"left","baseline":"alphabetic","font":"Lato","fontWeight":"bold","fontSize":37,"color":"#808080"},
 "encoding":{"text":{"field":"t"}}},
{"data":{"values":[{"d":"2015-03-25","p":2530,"t":"forexgdp.com"}]},
 "mark":{"type":"text","align":"left","baseline":"alphabetic","font":"Lato","fontWeight":"bold","fontSize":35,"color":"#808080"},
 "encoding":{"text":{"field":"t"}}},
{"data":{"values":[{"d":"2017-09-03","p":2445.7,"t":"higher highs"},{"d":"2020-05-06","p":1061.1,"t":"higher lows"}]},
 "mark":{"type":"text","align":"left","baseline":"alphabetic","font":"Lato","fontWeight":"bold","fontSize":45,"color":"#000000"},
 "encoding":{"text":{"field":"t"}}},
{"data":{"values":[{"d":"2022-02-23","p":2614.7,"t":"Breakout"}]},
 "mark":{"type":"text","align":"left","baseline":"alphabetic","font":"Lato","fontWeight":"bold","fontSize":39,"color":"#000000"},
 "encoding":{"text":{"field":"t"}}},
{"data":{"values":[{"d":"2029-11-06","d2":"2030-04-10","p":2741,"p2":2756}]},
 "mark":{"type":"rect","color":"#000000"},
 "encoding":{"x2":{"field":"d2"},"y2":{"field":"p2"}}},
{"data":{"values":[{"d":"2029-11-13","p":2748.5,"t":"2751.77"}]},
 "mark":{"type":"text","align":"left","baseline":"middle","font":"Liberation Sans","fontSize":9.5,"color":"#ffffff"},
 "encoding":{"text":{"field":"t"}}}
]
}
